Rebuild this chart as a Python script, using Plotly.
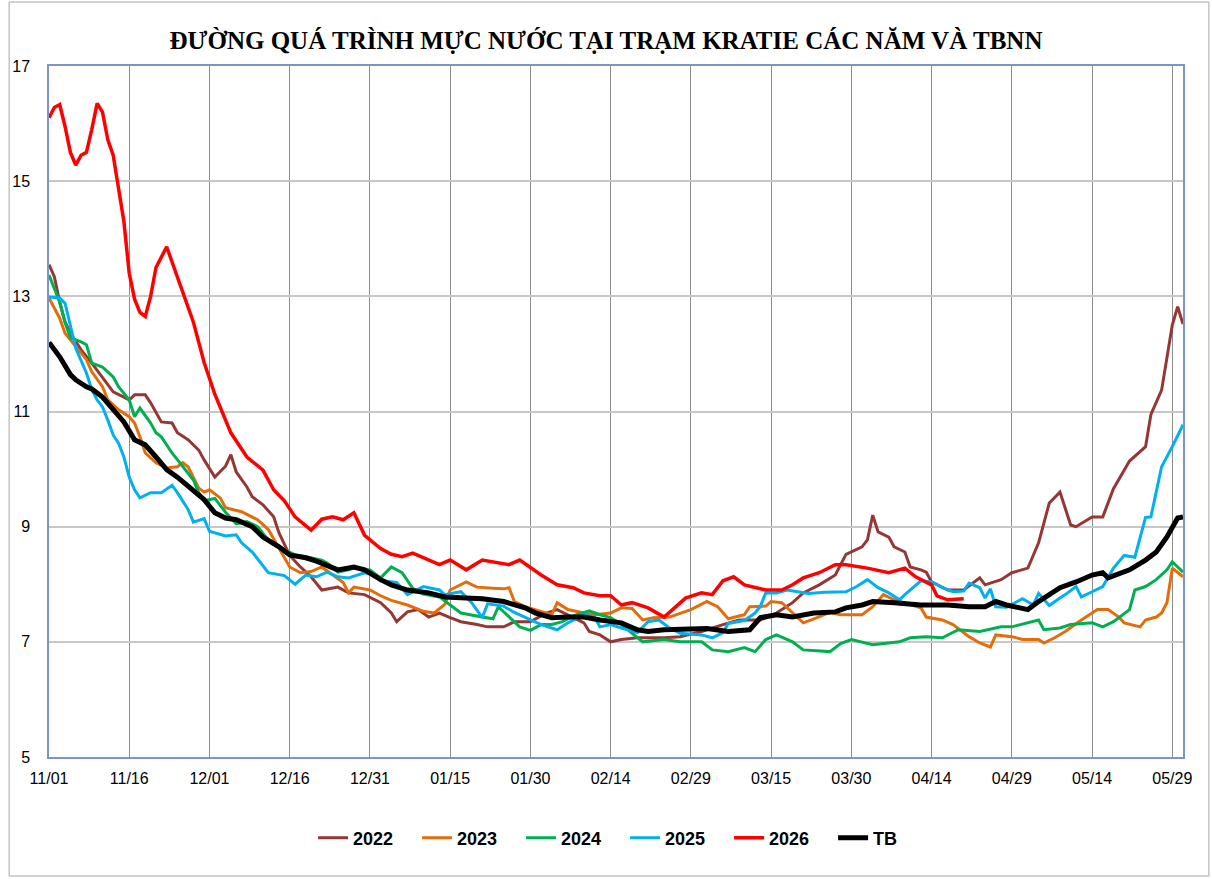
import plotly.graph_objects as go

# ---------------- data (day offset from 11/01, water level in m) ----------------
tick_days = [0, 15, 30, 45, 60, 75, 90, 105, 120, 135, 150, 165, 180, 195, 210]
tick_labels = ["11/01", "11/16", "12/01", "12/16", "12/31", "01/15", "01/30", "02/14",
               "02/29", "03/15", "03/30", "04/14", "04/29", "05/14", "05/29"]
y_ticks = [5, 7, 9, 11, 13, 15, 17]

days_2022 = [0, 1, 2, 3, 4, 6, 8, 10, 12, 14, 15, 16, 18, 19, 21, 23, 24, 26, 28, 29, 31, 33, 34, 35, 36,
             37, 38, 40, 42, 43, 45, 47, 49, 51, 54, 56, 59, 62, 64, 65, 67, 69, 71, 73, 75, 77, 80, 82, 85,
             87, 90, 93, 95, 98, 100, 101, 103, 105, 107, 110, 115, 118, 122, 126, 129, 133, 136, 139, 141,
             144, 147, 149, 152, 153, 154, 155, 157, 158, 160, 161, 163, 164, 165, 168, 171, 174, 175, 178,
             180, 183, 185, 187, 189, 191, 192, 195, 197, 199, 202, 205, 206, 208, 209, 210, 211, 212]
wl_2022 = [13.55, 13.34, 12.9, 12.55, 12.36, 12.07, 11.84, 11.6, 11.34, 11.25, 11.2, 11.29, 11.29, 11.15,
           10.82, 10.8, 10.63, 10.51, 10.33, 10.16, 9.86, 10.05, 10.25, 9.95, 9.81, 9.69, 9.52, 9.38, 9.17,
           8.89, 8.5, 8.3, 8.13, 7.9, 7.95, 7.85, 7.82, 7.68, 7.5, 7.35, 7.52, 7.56, 7.43, 7.5, 7.42, 7.35,
           7.3, 7.26, 7.26, 7.35, 7.35, 7.5, 7.56, 7.42, 7.33, 7.18, 7.12, 7.0, 7.04, 7.07, 7.07, 7.09, 7.18,
           7.3, 7.38, 7.38, 7.5, 7.68, 7.85, 7.99, 8.16, 8.52, 8.65, 8.77, 9.2, 8.91, 8.82, 8.65, 8.56, 8.3,
           8.25, 8.21, 8.04, 7.9, 7.9, 8.11, 7.99, 8.08, 8.2, 8.28, 8.72, 9.41, 9.6, 9.03, 9.0, 9.17, 9.17,
           9.66, 10.14, 10.39, 10.95, 11.37, 11.9, 12.5, 12.82, 12.52]

days_2023 = [0, 2, 3, 5, 7, 8, 10, 11, 13, 15, 16, 17, 18, 20, 22, 24, 25, 26, 28, 29, 30, 32, 33, 36, 39,
             41, 43, 45, 47, 49, 51, 53, 55, 56, 57, 60, 62, 64, 67, 70, 72, 74, 75, 78, 80, 83, 85, 86, 87,
             89, 92, 94, 95, 97, 100, 102, 105, 107, 109, 111, 113, 116, 120, 123, 125, 127, 130, 131, 134,
             135, 137, 139, 141, 143, 146, 148, 152, 154, 156, 158, 161, 163, 164, 167, 169, 172, 174, 176,
             177, 180, 182, 185, 186, 188, 190, 193, 196, 198, 200, 201, 204, 205, 207, 208, 209, 210, 212]
wl_2023 = [12.97, 12.62, 12.36, 12.12, 11.9, 11.69, 11.43, 11.2, 11.03, 10.91, 10.8, 10.56, 10.28, 10.11,
           10.02, 10.04, 10.11, 10.04, 9.67, 9.6, 9.64, 9.5, 9.33, 9.26, 9.12, 8.95, 8.62, 8.3, 8.2, 8.22,
           8.3, 8.16, 8.03, 7.85, 7.95, 7.9, 7.8, 7.72, 7.64, 7.53, 7.5, 7.65, 7.9, 8.04, 7.95, 7.93, 7.92,
           7.94, 7.7, 7.61, 7.52, 7.47, 7.68, 7.56, 7.5, 7.47, 7.5, 7.59, 7.58, 7.38, 7.42, 7.43, 7.56, 7.7,
           7.61, 7.4, 7.47, 7.61, 7.62, 7.7, 7.68, 7.5, 7.33, 7.4, 7.51, 7.47, 7.47, 7.61, 7.82, 7.73, 7.64,
           7.59, 7.43, 7.38, 7.3, 7.09, 6.98, 6.91, 7.12, 7.09, 7.04, 7.04, 6.98, 7.07, 7.18, 7.38, 7.56,
           7.56, 7.43, 7.33, 7.26, 7.38, 7.43, 7.5, 7.68, 8.28, 8.13]

days_2024 = [0, 2, 3, 4, 6, 7, 8, 10, 12, 13, 15, 16, 17, 19, 20, 21, 23, 25, 27, 28, 29, 31, 33, 35, 37,
             39, 41, 44, 46, 48, 51, 52, 54, 56, 57, 60, 62, 64, 66, 68, 70, 73, 75, 77, 81, 83, 84, 86, 88,
             90, 92, 94, 96, 98, 101, 103, 105, 107, 111, 115, 118, 122, 124, 127, 130, 132, 134, 136, 139,
             141, 146, 148, 150, 154, 159, 161, 164, 167, 170, 174, 178, 180, 183, 185, 186, 189, 191, 195,
             197, 199, 202, 203, 205, 207, 209, 210, 212]
wl_2024 = [13.37, 12.9, 12.55, 12.28, 12.21, 12.16, 11.84, 11.77, 11.6, 11.43, 11.2, 10.91, 11.06, 10.8,
           10.63, 10.56, 10.28, 10.04, 9.81, 9.59, 9.45, 9.49, 9.25, 9.05, 9.09, 9.0, 8.77, 8.6, 8.51, 8.48,
           8.42, 8.37, 8.21, 8.25, 8.28, 8.25, 8.11, 8.3, 8.2, 7.93, 7.83, 7.78, 7.64, 7.5, 7.43, 7.4, 7.61,
           7.43, 7.26, 7.2, 7.3, 7.3, 7.35, 7.45, 7.54, 7.47, 7.42, 7.3, 7.0, 7.04, 7.0, 7.0, 6.86, 6.83,
           6.9, 6.83, 7.04, 7.12, 7.0, 6.86, 6.83, 6.97, 7.04, 6.95, 7.0, 7.07, 7.09, 7.07, 7.21, 7.18, 7.26,
           7.26, 7.33, 7.38, 7.21, 7.24, 7.3, 7.33, 7.26, 7.35, 7.56, 7.9, 7.96, 8.08, 8.25, 8.39, 8.21]

days_2025 = [0, 2, 3, 4, 5, 7, 8, 9, 10, 11, 12, 13, 14, 15, 16, 17, 19, 21, 23, 24, 26, 27, 29, 30, 33,
             35, 36, 38, 40, 41, 44, 46, 48, 50, 52, 54, 56, 59, 61, 62, 65, 67, 70, 73, 74, 77, 79, 81, 82,
             85, 87, 90, 92, 95, 97, 100, 102, 103, 105, 107, 110, 112, 114, 116, 118, 122, 124, 126, 127,
             130, 132, 133, 134, 136, 138, 142, 145, 149, 151, 153, 155, 157, 159, 160, 162, 163, 165, 167,
             169, 171, 172, 174, 175, 176, 177, 179, 182, 184, 185, 187, 189, 190, 192, 193, 195, 197, 199,
             201, 203, 205, 206, 208, 210, 212]
wl_2025 = [12.99, 12.97, 12.88, 12.5, 12.1, 11.67, 11.38, 11.2, 11.08, 10.85, 10.59, 10.45, 10.21, 9.86,
           9.64, 9.5, 9.59, 9.59, 9.72, 9.59, 9.3, 9.08, 9.14, 8.92, 8.84, 8.86, 8.72, 8.56, 8.33, 8.2, 8.15,
           8.0, 8.16, 8.13, 8.21, 8.13, 8.11, 8.2, 8.16, 8.06, 8.03, 7.82, 7.96, 7.9, 7.82, 7.87, 7.68, 7.42,
           7.66, 7.62, 7.51, 7.38, 7.3, 7.21, 7.33, 7.47, 7.43, 7.26, 7.3, 7.24, 7.16, 7.35, 7.38, 7.24,
           7.15, 7.12, 7.07, 7.16, 7.32, 7.37, 7.5, 7.62, 7.85, 7.85, 7.9, 7.84, 7.86, 7.87, 7.96, 8.08,
           7.94, 7.85, 7.73, 7.82, 7.99, 8.06, 8.04, 7.94, 7.87, 7.88, 8.02, 7.94, 7.76, 7.92, 7.61, 7.6,
           7.75, 7.64, 7.84, 7.63, 7.76, 7.82, 7.96, 7.78, 7.87, 7.96, 8.28, 8.5, 8.47, 9.16, 9.17, 10.04,
           10.39, 10.77]

days_2026 = [0, 1, 2, 3, 4, 5, 6, 7, 8, 9, 10, 11, 12, 13, 14, 15, 16, 17, 18, 19, 20, 22, 23, 24, 26, 27,
             28, 29, 31, 34, 37, 40, 42, 44, 46, 48, 49, 51, 53, 55, 57, 59, 62, 64, 66, 68, 70, 73, 75, 78,
             81, 84, 86, 88, 92, 95, 98, 100, 103, 105, 107, 109, 112, 115, 117, 119, 122, 124, 126, 128,
             130, 134, 137, 139, 141, 144, 147, 149, 153, 157, 160, 162, 165, 166, 168, 171]
wl_2026 = [16.1, 16.28, 16.33, 15.95, 15.5, 15.28, 15.45, 15.5, 15.9, 16.35, 16.2, 15.72, 15.45, 14.85,
           14.3, 13.4, 12.95, 12.72, 12.65, 13.0, 13.5, 13.86, 13.6, 13.35, 12.8, 12.55, 12.2, 11.85, 11.3,
           10.63, 10.21, 9.98, 9.64, 9.45, 9.17, 9.02, 8.94, 9.13, 9.17, 9.12, 9.24, 8.85, 8.62, 8.52,
           8.48, 8.54, 8.46, 8.34, 8.42, 8.25, 8.42, 8.38, 8.34, 8.42, 8.16, 7.99, 7.94, 7.85, 7.8, 7.8,
           7.64, 7.68, 7.59, 7.43, 7.6, 7.76, 7.85, 7.82, 8.06, 8.13, 7.99, 7.9, 7.9, 7.99, 8.11, 8.2, 8.34,
           8.34, 8.28, 8.2, 8.28, 8.13, 7.99, 7.8, 7.73, 7.75]

days_tb = [0, 2, 4, 5, 7, 8, 10, 12, 14, 16, 18, 20, 22, 24, 27, 29, 31, 33, 35, 38, 40, 43, 45, 48, 50,
           54, 57, 59, 62, 64, 67, 71, 74, 78, 81, 85, 89, 91, 94, 97, 100, 103, 107, 110, 112, 115, 120,
           123, 127, 131, 133, 136, 139, 143, 147, 149, 152, 154, 158, 163, 168, 172, 175, 177, 179, 183,
           185, 189, 192, 195, 197, 198, 202, 205, 207, 209, 211, 212]
wl_tb = [12.2, 11.95, 11.64, 11.55, 11.43, 11.39, 11.25, 11.03, 10.82, 10.51, 10.42, 10.21, 9.99, 9.86,
         9.64, 9.47, 9.24, 9.15, 9.12, 9.0, 8.82, 8.65, 8.51, 8.46, 8.4, 8.25, 8.3, 8.25, 8.08, 7.99, 7.9,
         7.85, 7.78, 7.76, 7.75, 7.7, 7.59, 7.5, 7.42, 7.43, 7.43, 7.38, 7.33, 7.21, 7.18, 7.21, 7.21, 7.23,
         7.18, 7.21, 7.42, 7.47, 7.43, 7.5, 7.52, 7.59, 7.64, 7.7, 7.68, 7.64, 7.64, 7.61, 7.61, 7.7, 7.64,
         7.56, 7.7, 7.94, 8.04, 8.16, 8.2, 8.11, 8.25, 8.42, 8.56, 8.82, 9.15, 9.17]

series = [
    ("2022", days_2022, wl_2022, "#953735", 3),
    ("2023", days_2023, wl_2023, "#E46C0A", 3),
    ("2024", days_2024, wl_2024, "#00B050", 3),
    ("2025", days_2025, wl_2025, "#00B0F0", 3),
    ("2026", days_2026, wl_2026, "#FF0000", 3.5),
    ("TB", days_tb, wl_tb, "#000000", 5),
]

fig = go.Figure()
for name, d, v, color, width in series:
    fig.add_trace(go.Scatter(x=d, y=v, mode="lines", name=name,
                             line=dict(color=color, width=width)))

W, H = 1212, 879
L, R, T, B = 45, 29, 66, 122
pw, ph = W - L - R, H - T - B

fig.update_layout(
    width=W, height=H,
    margin=dict(l=L, r=R, t=T, b=B),
    paper_bgcolor="white", plot_bgcolor="white",
    title=dict(text="<b>ĐƯỜNG QUÁ TRÌNH MỰC NƯỚC TẠI TRẠM KRATIE CÁC NĂM VÀ TBNN</b>",
               x=0.5, xref="container", xanchor="center",
               y=1 - 40 / H, yref="container", yanchor="middle",
               font=dict(family="Liberation Serif", size=25, color="black")),
    showlegend=True,
    legend=dict(orientation="h", x=0.508, xanchor="center", y=(ph - (838 - T)) / ph, yanchor="middle",
                font=dict(family="Liberation Sans", size=18, color="black", weight="bold"),
                entrywidth=59, entrywidthmode="pixels", bgcolor="rgba(0,0,0,0)"),
    xaxis=dict(range=[0, 212], tickvals=tick_days, ticktext=tick_labels,
               showgrid=True, gridcolor="#8C8C8C", gridwidth=1,
               showline=True, linecolor="#7A96C8", linewidth=1.5, mirror=True,
               zeroline=False, ticks="", ticklabelstandoff=6,
               tickfont=dict(family="Liberation Sans", size=16, color="black")),
    yaxis=dict(range=[5, 17], tickvals=y_ticks,
               showgrid=True, gridcolor="#C8C8C8", gridwidth=1.5,
               showline=True, linecolor="#7A96C8", linewidth=1.5, mirror=True,
               zeroline=False, ticks="", ticklabelstandoff=14,
               tickfont=dict(family="Liberation Sans", size=16, color="black")),
    shapes=[dict(type="rect", xref="paper", yref="paper",
                 x0=(5 - L) / pw, x1=(1209 - L) / pw,
                 y0=(H - B - 876) / ph, y1=(H - B - 2) / ph,
                 line=dict(color="#A6A6A6", width=1), fillcolor="rgba(0,0,0,0)", layer="below")],
)

fig.write_html("out.html", config={"displayModeBar": False},
               post_script="document.body.style.margin='0';")
